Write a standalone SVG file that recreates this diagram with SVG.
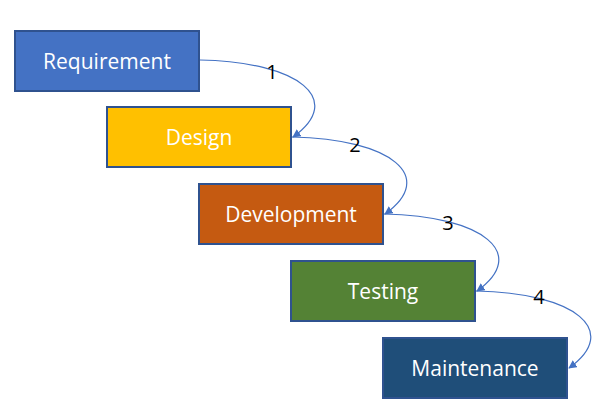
<svg xmlns="http://www.w3.org/2000/svg" width="613" height="416" viewBox="0 0 613 416">
<style>
.b{stroke:#2F528F;stroke-width:2}
.t{fill:#fff;font-family:"Open Sans","Liberation Sans",sans-serif;font-size:21px;text-anchor:middle}
.n{fill:#000;font-family:"Open Sans","Liberation Sans",sans-serif;font-size:20px;text-anchor:middle}
.c{fill:none;stroke:#4472C4;stroke-width:1.2;marker-end:url(#a)}
</style>
<defs><marker id="a" viewBox="0 0 10 10" refX="9" refY="5" markerWidth="7" markerHeight="7" orient="auto"><path d="M0,0L10,5L0,10z" fill="#4472C4"/></marker></defs>
<rect width="613" height="416" fill="#fff"/>
<g id="requirement"><rect class="b" x="15" y="31" width="184" height="60" fill="#4472C4"/><text class="t" x="107" y="69">Requirement</text></g>
<g id="design"><rect class="b" x="107" y="107" width="184" height="60" fill="#FFC000"/><text class="t" x="199" y="145">Design</text></g>
<g id="development"><rect class="b" x="199" y="184" width="184" height="60" fill="#C55A11"/><text class="t" x="291" y="222">Development</text></g>
<g id="testing"><rect class="b" x="291" y="261" width="184" height="60" fill="#548235"/><text class="t" x="383" y="299">Testing</text></g>
<g id="maintenance"><rect class="b" x="383" y="338" width="184" height="60" fill="#1F4E79"/><text class="t" x="475" y="376">Maintenance</text></g>
<g id="connectors">
<path class="c" d="M200,60 C300,62 345,100 293,137"/>
<path class="c" d="M292,137 C392,139 437,177 385,214"/>
<path class="c" d="M384,214 C484,216 529,254 477,291"/>
<path class="c" d="M476,291 C576,293 621,331 569,368"/>
<text class="n" x="272" y="79">1</text>
<text class="n" x="355" y="152">2</text>
<text class="n" x="448" y="230">3</text>
<text class="n" x="539" y="304">4</text>
</g>
</svg>
